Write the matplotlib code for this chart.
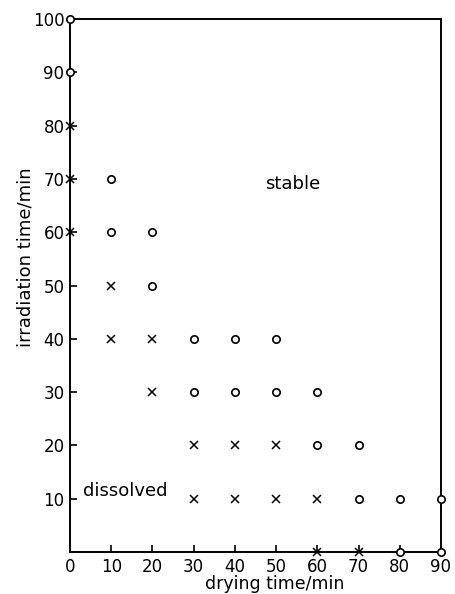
import matplotlib
matplotlib.use("Agg")
import matplotlib.pyplot as plt

# stable points (circles)
stable_x = [0, 0, 10, 10, 20, 20, 30, 30, 40, 40, 50, 50, 60, 60, 70, 70, 80, 80, 90, 90]
stable_y = [100, 90, 70, 60, 60, 50, 40, 30, 40, 30, 40, 30, 30, 20, 20, 10, 10, 0, 10, 0]
# dissolved points (crosses)
diss_x = [0, 0, 0, 10, 10, 20, 20, 30, 30, 40, 40, 50, 50, 60, 60, 70]
diss_y = [80, 70, 60, 50, 40, 40, 30, 20, 10, 20, 10, 20, 10, 10, 0, 0]

xticks = [0, 10, 20, 30, 40, 50, 60, 70, 80, 90]
yticks = [10, 20, 30, 40, 50, 60, 70, 80, 90, 100]

plt.rcParams['font.family'] = ['DejaVu Sans']
fig = plt.figure(figsize=(4.56, 5.94), dpi=100)
ax = fig.add_axes([0.1535, 0.0707, 0.8136, 0.897])

ax.plot(stable_x, stable_y, linestyle='none', marker='o', markersize=5.3,
        markerfacecolor='white', markeredgecolor='black', markeredgewidth=1.2, clip_on=False, zorder=5)
ax.plot(diss_x, diss_y, linestyle='none', marker='x', markersize=6,
        color='black', markeredgewidth=1.1, clip_on=False, zorder=5)

ax.set_xlim(0, 90)
ax.set_ylim(0, 100)
ax.set_xticks(xticks)
ax.set_yticks(yticks)
ax.tick_params(direction='in', length=5, width=1.2, labelsize=12)
ax.tick_params(axis='x', pad=4)
ax.tick_params(axis='y', pad=4)
for s in ax.spines.values():
    s.set_linewidth(1.4)

ax.text(54, 69, 'stable', fontsize=13, ha='center', va='center')
ax.text(3.1, 11.5, 'dissolved', fontsize=13, ha='left', va='center')

ax.set_xlabel('drying time/min', fontsize=12.5)
ax.xaxis.set_label_coords(0.553, -0.0765)
ax.xaxis.label.set_va('bottom')
ax.set_ylabel('irradiation time/min', fontsize=13)
ax.yaxis.set_label_coords(-0.095, 0.553)

fig.savefig('out.png', dpi=100)
